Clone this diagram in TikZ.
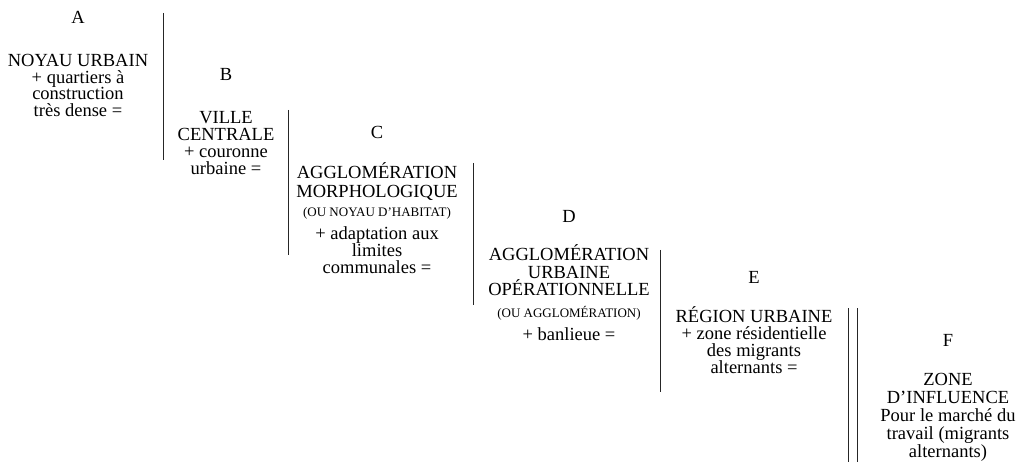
\documentclass[tikz,border=0pt]{standalone}
\usepackage{fontspec}
\setmainfont{Liberation Serif}
\begin{document}
\begin{tikzpicture}[x=1pt,y=-1pt,
  t/.style={anchor=base, inner sep=0pt, text height=0.68em, text depth=0.18em, font=\fontsize{18.5}{18.5}\selectfont},
  sm/.style={anchor=base, inner sep=0pt, text height=0.66em, text depth=0.18em, font=\fontsize{13}{13}\selectfont},
  rule/.style={line width=0.9pt, draw=black!85}]
\useasboundingbox (0,0) rectangle (1019,462);
% column A
\node[t] (a0) at (78,24) {A};
\node[t] (a1) at (78,67) {NOYAU URBAIN};
\node[t] (a2) at (78,83.5) {+ quartiers à};
\node[t] (a3) at (78,100) {construction};
\node[t] (a4) at (78,116.5) {très dense =};
% column B
\node[t] (b0) at (226,81) {B};
\node[t] (b1) at (226,124) {VILLE};
\node[t] (b2) at (226,141) {CENTRALE};
\node[t] (b3) at (226,158) {+ couronne};
\node[t] (b4) at (226,175) {urbaine =};
% column C
\node[t] (c0) at (377,139) {C};
\node[t] (c1) at (377,179) {AGGLOMÉRATION};
\node[t] (c2) at (377,198) {MORPHOLOGIQUE};
\node[sm] (c3) at (377,217) {(OU NOYAU D'HABITAT)};
\node[t] (c4) at (377,240) {+ adaptation aux};
\node[t] (c5) at (377,256.5) {limites};
\node[t] (c6) at (377,273) {communales =};
% column D
\node[t] (d0) at (569,223) {D};
\node[t] (d1) at (569,261) {AGGLOMÉRATION};
\node[t] (d2) at (569,278) {URBAINE};
\node[t] (d3) at (569,295) {OPÉRATIONNELLE};
\node[sm] (d4) at (569,317) {(OU AGGLOMÉRATION)};
\node[t] (d5) at (569,340) {+ banlieue =};
% column E
\node[t] (e0) at (754,283) {E};
\node[t] (e1) at (754,322) {RÉGION URBAINE};
\node[t] (e2) at (754,339) {+ zone résidentielle};
\node[t] (e3) at (754,356) {des migrants};
\node[t] (e4) at (754,373) {alternants =};
% column F
\node[t] (f0) at (948,346) {F};
\node[t] (f1) at (948,385) {ZONE};
\node[t] (f2) at (948,403) {D’INFLUENCE};
\node[t] (f3) at (948,421) {Pour le marché du};
\node[t] (f4) at (948,439) {travail (migrants};
\node[t] (f5) at (948,457) {alternants)};
% separators
\coordinate (l1t) at (163,13);  \coordinate (l1b) at (163,160);
\coordinate (l2t) at (288,110); \coordinate (l2b) at (288,255);
\coordinate (l3t) at (473,163); \coordinate (l3b) at (473,305);
\coordinate (l4t) at (660,250); \coordinate (l4b) at (660,392);
\coordinate (l5t) at (848,308); \coordinate (l5b) at (848,462);
\coordinate (l6t) at (857,308); \coordinate (l6b) at (857,462);
\draw[rule] (l1t) -- (l1b);
\draw[rule] (l2t) -- (l2b);
\draw[rule] (l3t) -- (l3b);
\draw[rule] (l4t) -- (l4b);
\draw[rule] (l5t) -- (l5b);
\draw[rule] (l6t) -- (l6b);
\end{tikzpicture}
\end{document}
